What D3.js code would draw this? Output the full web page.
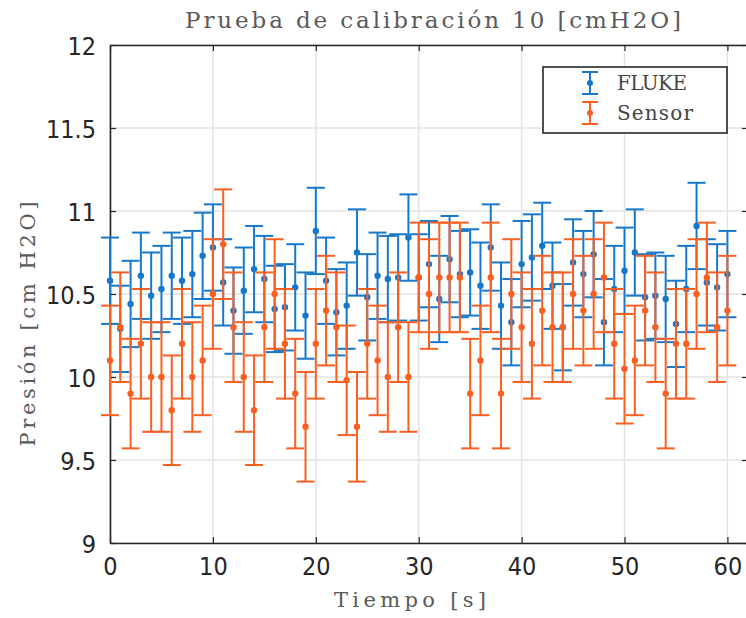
<!DOCTYPE html>
<html>
<head>
<meta charset="utf-8">
<script src="https://cdn.jsdelivr.net/npm/d3@7"></script>
<style>
  html, body { margin: 0; padding: 0; background: #fff; }
  svg { display: block; }
</style>
</head>
<body>
<svg id="chart" width="746" height="618"></svg>
<script>
// ---- data ----
const time = [0,1,2,3,4,5,6,7,8,9,10,11,12,13,14,15,16,17,18,19,20,
  21,22,23,24,25,26,27,28,29,30,31,32,33,34,35,36,37,38,39,40,
  41,42,43,44,45,46,47,48,49,50,51,52,53,54,55,56,57,58,59,60];
const fluke = [10.58,10.29,10.44,10.61,10.49,10.53,10.61,10.58,10.62,10.73,10.78,
  10.57,10.40,10.52,10.65,10.59,10.41,10.42,10.54,10.37,10.88,
  10.58,10.39,10.43,10.75,10.48,10.61,10.59,10.60,10.84,10.60,
  10.68,10.47,10.71,10.62,10.63,10.55,10.78,10.43,10.33,10.68,
  10.72,10.79,10.55,10.30,10.69,10.62,10.74,10.33,10.53,10.64,
  10.75,10.48,10.49,10.47,10.32,10.53,10.91,10.57,10.54,10.62];
const sensor = [10.10,10.30,9.90,10.20,10.00,10.00,9.80,10.20,10.00,10.10,10.50,
  10.80,10.30,10.00,9.80,10.30,10.50,10.20,9.90,9.70,10.20,
  10.40,10.30,9.98,9.70,10.20,10.10,10.00,10.30,10.00,10.60,
  10.50,10.60,10.60,10.60,9.90,10.10,10.60,9.90,10.50,10.30,
  10.20,10.40,10.30,10.30,10.50,10.40,10.50,10.60,10.20,10.05,
  10.10,10.40,10.30,9.90,10.20,10.20,10.50,10.60,10.30,10.40];
const flukeErr = 0.26;
const sensorErr = 0.33;
const xTicks = [0,10,20,30,40,50,60];
const yTicks = [9,9.5,10,10.5,11,11.5,12];
const seriesNames = ["FLUKE","Sensor"];
const title = "Prueba de calibración 10 [cmH2O]";
const xLabel = "Tiempo [s]";
const yLabel = "Presión [cm H2O]";

// ---- layout ----
const colors = ["#1778C9", "#FA5F22"];
const L = 110, T = 45, R = 748, B = 543;
const x = d3.scaleLinear().domain([0, 62]).range([L, R]);
const y = d3.scaleLinear().domain([9, 12]).range([B, T]);

const svg = d3.select("#chart");
const axisCol = "#262626";
const tickFont = "'DejaVu Sans Condensed', 'DejaVu Sans', sans-serif";
const serif = "'DejaVu Serif', 'Liberation Serif', serif";

// grid
const grid = svg.append("g");
grid.selectAll("line.gx").data(xTicks).join("line")
  .attr("x1", d => x(d)).attr("x2", d => x(d))
  .attr("y1", T).attr("y2", B)
  .attr("stroke", "#e3e3e3").attr("stroke-width", 1.5);
grid.selectAll("line.gy").data(yTicks).join("line")
  .attr("x1", L).attr("x2", R)
  .attr("y1", d => y(d)).attr("y2", d => y(d))
  .attr("stroke", "#e3e3e3").attr("stroke-width", 1.5);

// axes via d3 axis (inward ticks)
const tk = 6;
const fmtY = d => String(d);
const axB = svg.append("g").attr("transform", `translate(0,${B})`)
  .call(d3.axisBottom(x).tickValues(xTicks).tickSize(-tk).tickPadding(20).tickSizeOuter(0));
const axT = svg.append("g").attr("transform", `translate(0,${T})`)
  .call(d3.axisTop(x).tickValues(xTicks).tickSize(-tk).tickFormat("").tickSizeOuter(0));
const axL = svg.append("g").attr("transform", `translate(${L},0)`)
  .call(d3.axisLeft(y).tickValues(yTicks).tickSize(-tk).tickPadding(20).tickFormat(fmtY).tickSizeOuter(0));
const axR = svg.append("g").attr("transform", `translate(${R},0)`)
  .call(d3.axisRight(y).tickValues(yTicks).tickSize(-tk).tickFormat("").tickSizeOuter(0));
[axB, axT, axL, axR].forEach(a => {
  a.select(".domain").attr("stroke", axisCol).attr("stroke-width", 1.6);
  a.selectAll(".tick line").attr("stroke", axisCol).attr("stroke-width", 1.2);
  a.selectAll(".tick text").attr("fill", "#262626")
    .style("font-family", tickFont).style("font-size", "25px");
});
axB.selectAll(".tick text").attr("dy", "0.71em").attr("y", 14);
axL.selectAll(".tick text").attr("x", -14).attr("dy", "0.36em");

// error bars
const cap = 9;
function drawSeries(vals, err, col) {
  const g = svg.append("g");
  const data = time.map((t, i) => ({t, v: vals[i]}));
  g.selectAll("line.v").data(data).join("line")
    .attr("x1", d => x(d.t)).attr("x2", d => x(d.t))
    .attr("y1", d => y(d.v - err)).attr("y2", d => y(d.v + err))
    .attr("stroke", col).attr("stroke-width", 2);
  g.selectAll("line.top").data(data).join("line")
    .attr("x1", d => x(d.t) - cap).attr("x2", d => x(d.t) + cap)
    .attr("y1", d => y(d.v + err)).attr("y2", d => y(d.v + err))
    .attr("stroke", col).attr("stroke-width", 2);
  g.selectAll("line.bot").data(data).join("line")
    .attr("x1", d => x(d.t) - cap).attr("x2", d => x(d.t) + cap)
    .attr("y1", d => y(d.v - err)).attr("y2", d => y(d.v - err))
    .attr("stroke", col).attr("stroke-width", 2);
  g.selectAll("circle").data(data).join("circle")
    .attr("cx", d => x(d.t)).attr("cy", d => y(d.v)).attr("r", 3.2)
    .attr("fill", col);
}
drawSeries(fluke, flukeErr, colors[0]);
drawSeries(sensor, sensorErr, colors[1]);

// title and labels
svg.append("text").attr("x", 433).attr("y", 28).attr("text-anchor", "middle")
  .attr("fill", "#5a5a5a").style("font-family", serif).style("font-size", "23px")
  .attr("textLength", 496).attr("lengthAdjust", "spacing").text(title);
svg.append("text").attr("x", 410).attr("y", 607).attr("text-anchor", "middle")
  .attr("fill", "#5a5a5a").style("font-family", serif).style("font-size", "21px")
  .attr("textLength", 152).attr("lengthAdjust", "spacing").text(xLabel);
svg.append("text").attr("transform", "translate(35,324) rotate(-90)")
  .attr("text-anchor", "middle")
  .attr("fill", "#5a5a5a").style("font-family", serif).style("font-size", "21px")
  .attr("textLength", 245).attr("lengthAdjust", "spacing").text(yLabel);

// legend
const lg = svg.append("g");
lg.append("rect").attr("x", 543).attr("y", 67).attr("width", 184).attr("height", 66)
  .attr("fill", "#fff").attr("stroke", axisCol).attr("stroke-width", 1.6);
const legY = [83, 113];
const legW = [70, 76];
seriesNames.forEach((name, i) => {
  const cx = 590, cy = legY[i], col = colors[i];
  lg.append("line").attr("x1", cx).attr("x2", cx).attr("y1", cy - 11).attr("y2", cy + 11)
    .attr("stroke", col).attr("stroke-width", 2);
  lg.append("line").attr("x1", cx - 8).attr("x2", cx + 8).attr("y1", cy - 11).attr("y2", cy - 11)
    .attr("stroke", col).attr("stroke-width", 2);
  lg.append("line").attr("x1", cx - 8).attr("x2", cx + 8).attr("y1", cy + 11).attr("y2", cy + 11)
    .attr("stroke", col).attr("stroke-width", 2);
  lg.append("circle").attr("cx", cx).attr("cy", cy).attr("r", 3).attr("fill", col);
  lg.append("text").attr("x", 617).attr("y", cy + 7)
    .attr("fill", "#444").style("font-family", serif).style("font-size", "20px")
    .attr("textLength", legW[i]).attr("lengthAdjust", "spacing").text(name);
});
</script>
</body>
</html>
